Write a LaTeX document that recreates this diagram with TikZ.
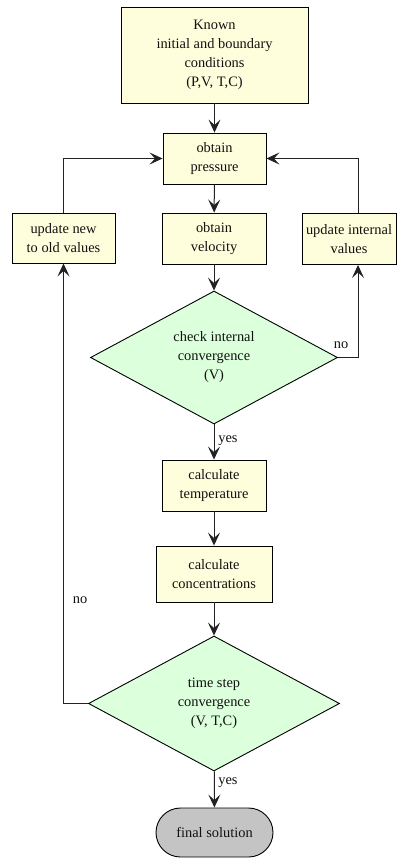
\documentclass[tikz,border=0pt]{standalone}
\usepackage{fontspec}
\setmainfont{Liberation Serif}
\usetikzlibrary{shapes.geometric,shapes.misc,arrows.meta}
\definecolor{boxfill}{HTML}{FFFEDC}
\definecolor{decfill}{HTML}{DCFFDC}
\definecolor{endfill}{HTML}{C4C4C4}
\definecolor{ink}{HTML}{111111}
\definecolor{wire}{HTML}{222222}
\begin{document}
\begin{tikzpicture}[x=1pt,y=-1pt,
  font=\fontsize{14.4}{19}\selectfont,
  every node/.style={text=ink},
  proc/.style={draw=black,line width=0.9pt,fill=boxfill,rectangle,align=center,inner sep=0pt},
  decide/.style={draw=black,line width=0.9pt,fill=decfill,diamond,align=center,inner sep=0pt},
  term/.style={draw=black,line width=0.9pt,fill=endfill,rounded rectangle,align=center,inner sep=0pt},
  flow/.style={draw=wire,line width=1pt,-{Stealth[length=13pt,width=12pt,inset=5.5pt]}},
  tag/.style={inner sep=0pt}]
\useasboundingbox (0,0) rectangle (405,868);

% process steps
\node[proc,minimum width=187pt,minimum height=96pt] (known) at (214.5,55)
  {Known\\initial and boundary\\conditions\\(P,V, T,C)};
\node[proc,minimum width=103pt,minimum height=51pt] (press) at (214.5,158.5) {obtain\\pressure};
\node[proc,minimum width=104pt,minimum height=51pt] (vel) at (214,238.5) {obtain\\velocity};
\node[proc,minimum width=103pt,minimum height=50pt] (updnew) at (63.5,238) {update new\\to old values};
\node[proc,minimum width=94pt,minimum height=51pt] (updint) at (349,239) {update internal\\values};
\node[decide,minimum width=247pt,minimum height=133pt] (chk) at (214,357.5)
  {check internal\\convergence\\(V)};
\node[proc,minimum width=104pt,minimum height=51pt] (temp) at (214,485.5) {calculate\\temperature};
\node[proc,minimum width=116pt,minimum height=56pt] (conc) at (214,574) {calculate\\concentrations};
\node[decide,minimum width=251pt,minimum height=135pt] (tstep) at (214,703.5)
  {time step\\convergence\\(V, T,C)};
\node[term,minimum width=117pt,minimum height=49pt] (final) at (214.5,832.5) {final solution};

% side return lanes
\coordinate (rlane) at (358,0);

% connectors
\draw[flow] (known) -- (press);
\draw[flow] (press) -- (vel);
\draw[flow] (vel) -- (chk);
\draw[flow] (chk.east) -| (rlane |- updint.south);
\draw[flow] (rlane |- updint.north) |- (press.east);
\draw[flow] (chk) -- (temp);
\draw[flow] (temp) -- (conc);
\draw[flow] (conc) -- (tstep);
\draw[flow] (tstep.west) -| (updnew.south);
\draw[flow] (updnew.north) |- (press.west);
\draw[flow] (tstep) -- (final);

% branch labels
\node[tag] (noA) at (341,345) {no};
\node[tag] (yesA) at (228,441) {yes};
\node[tag] (noB) at (80,600) {no};
\node[tag] (yesB) at (228,783) {yes};
\end{tikzpicture}
\end{document}
